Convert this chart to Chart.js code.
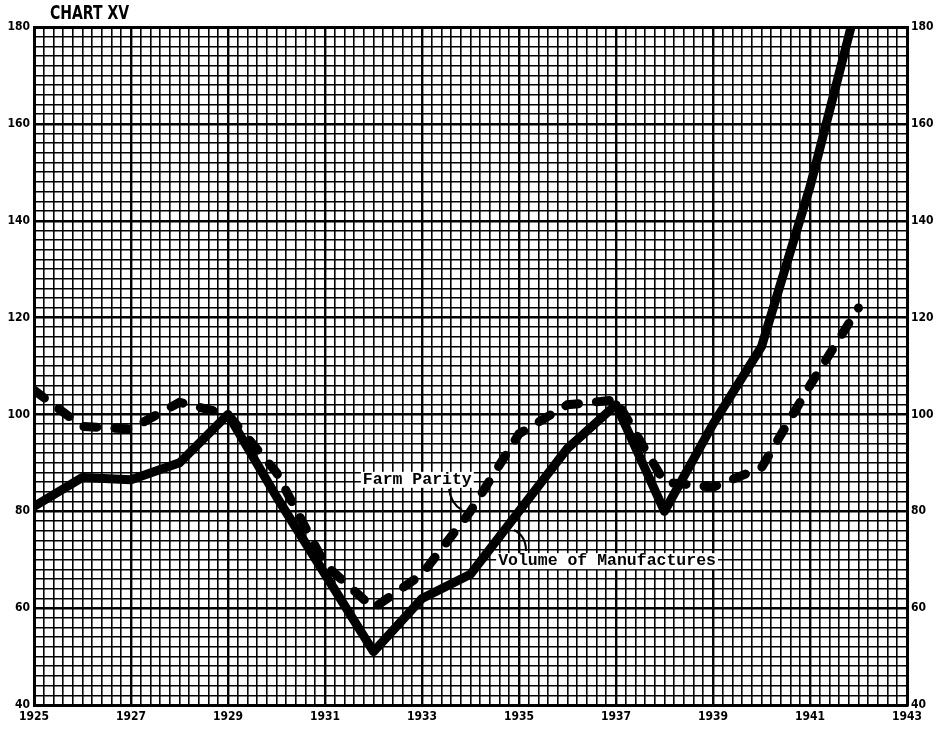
<!DOCTYPE html>
<html>
<head>
<meta charset="utf-8">
<script src="https://cdn.jsdelivr.net/npm/chart.js@4/dist/chart.umd.min.js"></script>
<style>
	body { margin: 0; background: #fff; }
	#wrap { position: relative; width: 939px; height: 731px; }
	#title { position: absolute; left: 50px; top: 1px; font: bold 19px 'DejaVu Sans Condensed', 'Liberation Sans Narrow', sans-serif; transform-origin: 0 0; transform: scaleX(0.82); }
</style>
</head>
<body>
<div id="wrap">
	<div id="title">CHART XV</div>
	<canvas id="chart" width="939" height="731"></canvas>
</div>
<script>
// values
const years = [1925, 1926, 1927, 1928, 1929, 1930, 1931, 1932, 1933, 1934, 1935, 1936, 1937, 1938, 1939, 1940, 1941, 1942];
const manufactures = [81, 87, 86.5, 90, 100, 83, 67, 51, 62, 67, 80, 93, 102, 80, 98, 114, 147, 186];
const farmParity = [105, 97.5, 97, 102.5, 100, 88, 69, 60, 67, 80, 96, 102, 103, 86, 85, 89, 106, 122];
const yearLabels = [1925, 1927, 1929, 1931, 1933, 1935, 1937, 1939, 1941, 1943];
const valueLabels = [40, 60, 80, 100, 120, 140, 160, 180];

const tickFont = { family: "'DejaVu Sans Condensed', 'Liberation Sans Narrow', sans-serif", size: 12, weight: 'bold' };

function toPoints(vals)
{
	return years.map((y, i) => ({ x: y, y: vals[i] }));
}

function yearLabel(v)
{
	let r = Math.round(v * 5) / 5;
	return yearLabels.includes(r) ? String(r) : '';
}

function valueLabel(v)
{
	let r = Math.round(v);
	return valueLabels.includes(r) ? String(r) : '';
}

// typed notes with little leader curves
const notes = {
	id: 'notes',
	afterDatasetsDraw(chart) {
		let ctx = chart.ctx;
		let xs = chart.scales.x, ys = chart.scales.y;
		ctx.save();
		ctx.font = "bold 16.5px 'Liberation Mono', 'DejaVu Sans Mono', monospace";
		ctx.textBaseline = 'middle';
		let items = [
			{ text: 'Farm Parity', x: 1931.78, y: 86.5 },
			{ text: 'Volume of Manufactures', x: 1934.57, y: 69.7 },
		];
		items.forEach(function(it) {
			let px = xs.getPixelForValue(it.x);
			let py = ys.getPixelForValue(it.y);
			let w = ctx.measureText(it.text).width;
			ctx.fillStyle = '#fff';
			ctx.fillRect(px - 2, py - 8, w + 4, 16);
			ctx.fillStyle = '#000';
			ctx.fillText(it.text, px, py);
		});
		ctx.strokeStyle = '#000';
		ctx.lineWidth = 2;
		ctx.beginPath();
		ctx.moveTo(449, 489);
		ctx.quadraticCurveTo(451, 504, 462, 510);
		ctx.moveTo(514, 530);
		ctx.quadraticCurveTo(526, 536, 526, 551);
		ctx.stroke();
		ctx.restore();
	}
};

new Chart(document.getElementById('chart').getContext('2d'), {
	type: 'line',
	data: {
		datasets: [
			{
				label: 'Volume of Manufactures',
				data: toPoints(manufactures),
				borderColor: '#000',
				borderWidth: 9,
				borderJoinStyle: 'round',
				borderCapStyle: 'round',
				pointRadius: 0,
				tension: 0,
			},
			{
				label: 'Farm Parity',
				data: toPoints(farmParity),
				borderColor: '#000',
				borderWidth: 9,
				borderDash: [13, 18],
				borderCapStyle: 'round',
				pointRadius: 0,
				tension: 0,
			},
		],
	},
	options: {
		responsive: false,
		animation: false,
		layout: { padding: { top: 27, left: 0, right: 0, bottom: 0 } },
		plugins: { legend: { display: false }, tooltip: { enabled: false } },
		scales: {
			x: {
				type: 'linear',
				min: 1925,
				max: 1943,
				afterFit: (s) => { s.height = 26; },
				ticks: {
					stepSize: 0.2,
					autoSkip: false,
					maxRotation: 0,
					padding: 5,
					color: '#000',
					font: tickFont,
					callback: yearLabel,
				},
				border: { color: '#000', width: 3 },
				grid: {
					drawTicks: false,
					color: '#000',
					lineWidth: (c) => {
						let v = Math.round(c.tick.value * 5) / 5;
						if (v === 1943) return 3;
						return yearLabels.includes(v) ? 2.4 : 1.6;
					},
				},
			},
			y: {
				min: 40,
				max: 180,
				afterFit: (s) => { s.width = 34; },
				ticks: {
					stepSize: 2,
					autoSkip: false,
					padding: 4,
					color: '#000',
					font: tickFont,
					callback: valueLabel,
				},
				border: { color: '#000', width: 3 },
				grid: {
					drawTicks: false,
					color: '#000',
					lineWidth: (c) => {
						let v = Math.round(c.tick.value);
						if (v === 180) return 3;
						return v % 20 === 0 ? 2.4 : 1.6;
					},
				},
			},
			y2: {
				position: 'right',
				min: 40,
				max: 180,
				afterFit: (s) => { s.width = 32; },
				ticks: {
					stepSize: 2,
					autoSkip: false,
					padding: 4,
					color: '#000',
					font: tickFont,
					callback: valueLabel,
				},
				border: { color: '#000', width: 3 },
				grid: { display: false, drawTicks: false },
			},
		},
	},
	plugins: [notes],
});
</script>
</body>
</html>
